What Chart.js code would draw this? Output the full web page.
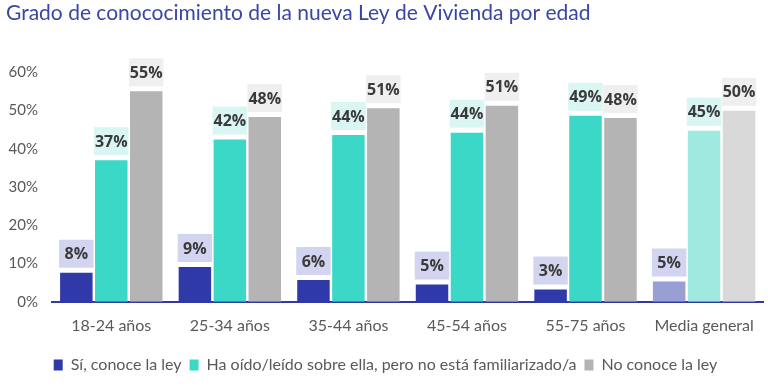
<!DOCTYPE html>
<html><head><meta charset="utf-8">
<script src="https://cdn.jsdelivr.net/npm/chart.js@4/dist/chart.umd.min.js"></script>
<style>html,body{margin:0;padding:0;background:#fff}#wrap{width:768px;height:390px}</style>
</head><body><div id="wrap"><canvas id="c" width="768" height="390"></canvas></div>
<script>
const title = "Grado de conococimiento de la nueva Ley de Vivienda por edad";
const categories = ["18-24 años","25-34 años","35-44 años","45-54 años","55-75 años","Media general"];
const seriesNames = ["Sí, conoce la ley","Ha oído/leído sobre ella, pero no está familiarizado/a","No conoce la ley"];
const conoce = [7.6, 9.1, 5.7, 4.5, 3.2, 5.3];
const haOido = [37.0, 42.4, 43.6, 44.2, 48.6, 44.7];
const noConoce = [55.0, 48.3, 50.6, 51.2, 48.0, 49.9];
const labelsConoce = [8, 9, 6, 5, 3, 5];
const labelsHaOido = [37, 42, 44, 44, 49, 45];
const labelsNoConoce = [55, 48, 51, 51, 48, 50];
const yTicks = [0,10,20,30,40,50,60];

const baseColors = ["#2f3aa8","#3bd8c8","#b4b4b4"];
const lastColors = ["#979fd4","#9fe9e1","#d9d9d9"];
const boxColors = ["#d3d5f0","#d9f6f3","#efefef"];
const labelSets = [labelsConoce, labelsHaOido, labelsNoConoce];
const FONT = "Lato";

function colorsFor(i){ return categories.map((c,k)=> k===categories.length-1 ? lastColors[i] : baseColors[i]); }

const labelPlugin = {
  id:'boxLabels',
  afterDatasetsDraw(chart){
    const ctx = chart.ctx;
    ctx.save();
    chart.data.datasets.forEach((ds,i)=>{
      const meta = chart.getDatasetMeta(i);
      meta.data.forEach((bar,k)=>{
        const w = bar.width;
        const h = 28;
        const x0 = bar.x - w/2 - 1;
        const y1 = bar.y - 5;
        ctx.fillStyle = boxColors[i];
        ctx.fillRect(x0, y1-h, w+2, h);
        ctx.fillStyle = "#3a3a3a";
        ctx.font = "bold 16px 'Open Sans'";
        ctx.textAlign = "center";
        ctx.textBaseline = "middle";
        ctx.fillText(labelSets[i][k] + "%", bar.x, y1 - h/2 + 1);
      });
    });
    ctx.restore();
  }
};

new Chart(document.getElementById('c'), {
  type:'bar',
  data:{
    labels: categories,
    datasets:[
      {label: seriesNames[0], data: conoce, backgroundColor: colorsFor(0)},
      {label: seriesNames[1], data: haOido, backgroundColor: colorsFor(1)},
      {label: seriesNames[2], data: noConoce, backgroundColor: colorsFor(2)}
    ]
  },
  options:{
    responsive:false,
    animation:false,
    devicePixelRatio:1,
    layout:{padding:{left:6,right:3,top:0,bottom:7}},
    datasets:{bar:{categoryPercentage:0.884,barPercentage:0.93}},
    scales:{
      x:{
        grid:{display:false, drawTicks:false},
        border:{display:true,color:"#2f3aa8",width:2},
        ticks:{color:"#595959",font:{family:FONT,size:16},padding:14}
      },
      y:{
        min:0,max:60,
        afterBuildTicks(s){ s.ticks = yTicks.map(v=>({value:v})); },
        afterFit(s){ s.width = 46; },
        grid:{display:false, drawTicks:false},
        border:{display:false},
        ticks:{color:"#595959",font:{family:FONT,size:15},padding:14,callback:v=>v+"%"}
      }
    },
    plugins:{
      title:{display:true,text:title,align:'start',color:"#3a46a6",
        font:{family:FONT,size:21,weight:'normal'},padding:{top:1,bottom:46}},
      legend:{position:'bottom',
        labels:{color:"#595959",font:{family:FONT,size:16},boxWidth:9,boxHeight:11,padding:8,
          generateLabels(chart){
            return chart.data.datasets.map((d,i)=>({text:d.label,fillStyle:baseColors[i],strokeStyle:baseColors[i],lineWidth:0,datasetIndex:i,fontColor:"#595959"}));
          }}},
      tooltip:{enabled:false}
    }
  },
  plugins:[labelPlugin]
});
</script></body></html>
